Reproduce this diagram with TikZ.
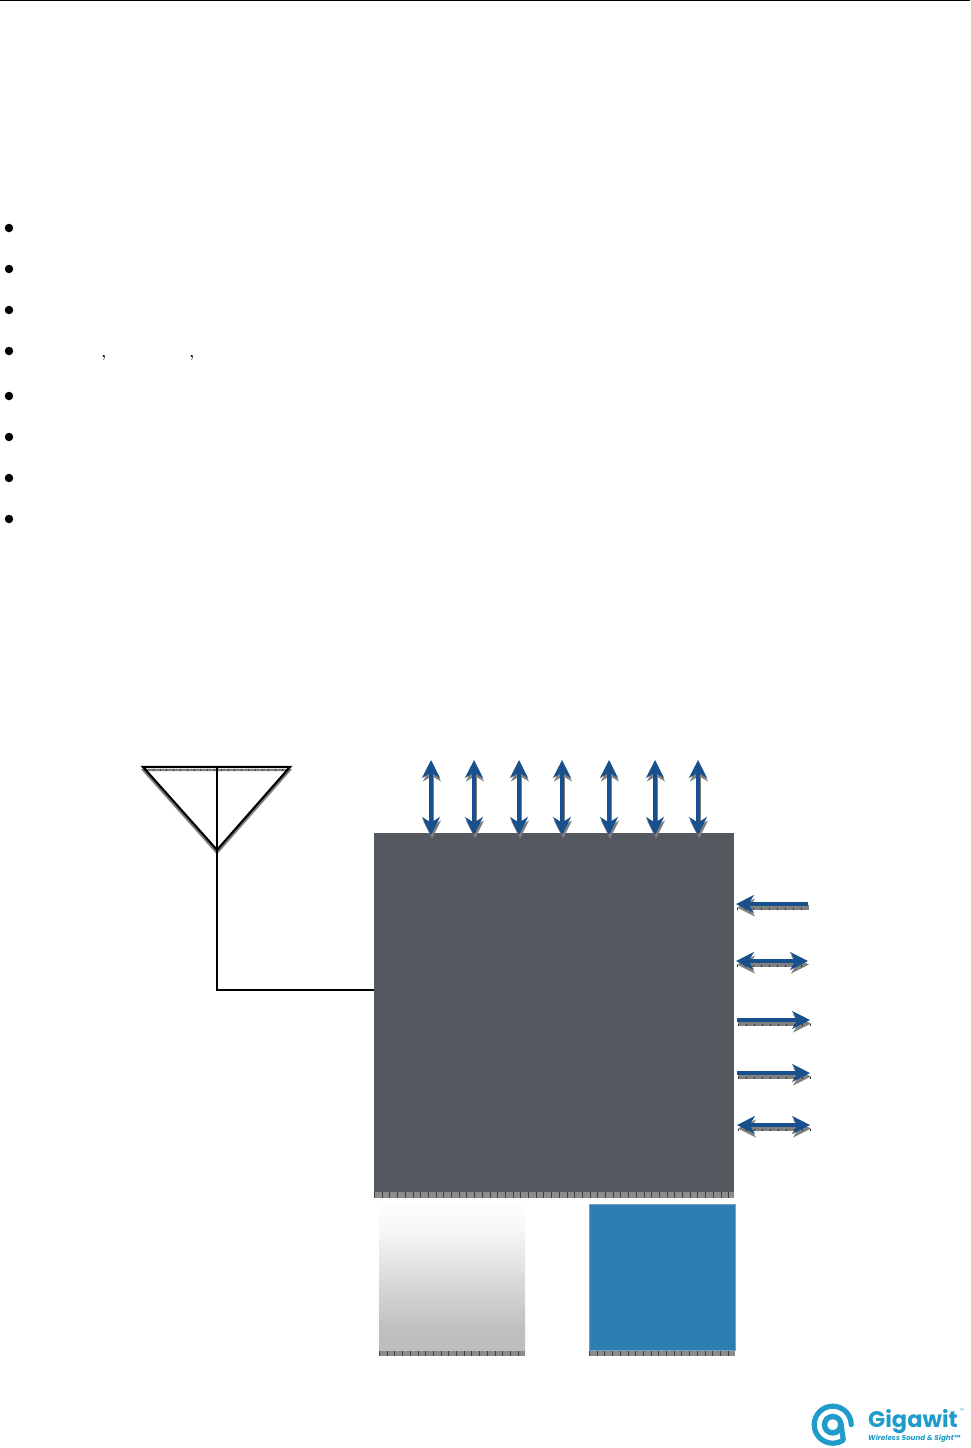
\documentclass[tikz,border=0pt]{standalone}
\usepackage{fontspec}
\usepackage{xcolor}
\usetikzlibrary{arrows.meta,positioning,calc}
\definecolor{chipgray}{HTML}{54585F}
\definecolor{sigblue}{HTML}{17508C}
\definecolor{padblue}{HTML}{2E7DB0}
\definecolor{logoblue}{HTML}{1F9CC9}
\newfontfamily\logofont{Poppins}
\pgfdeclareverticalshading{padfade}{100bp}{color(0bp)=(black!26); color(25bp)=(black!26); color(33bp)=(black!25); color(67bp)=(black!3); color(75bp)=(black!1); color(100bp)=(black!1)}

\begin{document}
\begin{tikzpicture}[
  x=1pt,y=-1pt,
  sigbase/.style={line width=4.4pt,sigblue,
    preaction={draw=gray,line width=4.4pt,transform canvas={xshift=1pt,yshift=-3.5pt}}},
  sig/.style={{Stealth[length=18pt,width=18pt,inset=5.5pt,line width=1.6pt]}-{Stealth[length=18pt,width=18pt,inset=5.5pt,line width=1.6pt]},sigbase},
  sigin/.style={{Stealth[length=18pt,width=18pt,inset=5.5pt,line width=1.6pt]}-,sigbase},
  sigout/.style={-{Stealth[length=18pt,width=18pt,inset=5.5pt,line width=1.6pt]},sigbase},
  hticks/.style={postaction={draw=black!80,arrows=-,line width=1.4pt,dash pattern=on 1pt off 7pt,transform canvas={xshift=1pt,yshift=-4.8pt}}},
  wire/.style={draw=black,line width=2.2pt},
  dot/.style={circle,fill=black,inner sep=0pt,minimum size=8.5pt},
  strip/.style={fill=gray!90,draw=none},
  ticks/.style={draw=black!75,line width=1.2pt,dash pattern=on 1pt off 6.7pt},
  chipbox/.style={rectangle,fill=chipgray,inner sep=0pt,minimum width=360pt,minimum height=359pt},
  padbox/.style={rectangle,inner sep=0pt,minimum width=146pt,minimum height=146pt},
  commamark/.style={inner sep=0pt,font=\Large\bfseries}
]
\useasboundingbox (0,0) rectangle (970,1448);
\draw[line width=1.4pt] (0,0.7) coordinate (ruleL) -- (970,0.7) coordinate (ruleR);

% list bullets
\node[dot] (b1) at (9,228) {};
\node[dot] (b2) at (9,269) {};
\node[dot] (b3) at (9,310) {};
\node[dot] (b4) at (9,351) {};
\node[dot] (b5) at (9,396) {};
\node[dot] (b6) at (9,437) {};
\node[dot] (b7) at (9,478) {};
\node[dot] (b8) at (9,519) {};
\node[commamark] (c1) at (104,358) {,};
\node[commamark] (c2) at (192,358) {,};

% antenna
\coordinate (antL) at (143,767);
\coordinate (antR) at (290,767);
\coordinate (antT) at (217,768);
\coordinate (antB) at (217,850);
\draw[line width=2pt,gray,transform canvas={yshift=-3pt}] (antL) -- (antR) -- (antB) -- cycle;
\draw[ticks,line width=2pt,dash pattern=on 1pt off 5.8pt] (146,770) -- (288,770);
\draw[wire] (antL) -- (antR) -- (antB) -- cycle;

% chip and pads
\node[chipbox,anchor=north west] (chip) at (374,833) {};
\fill[strip] (chip.south west) rectangle ++(360,6);
\draw[ticks,line width=6pt,draw=chipgray!70!black,dash pattern=on 1pt off 6.7pt] ($(chip.south west)+(0,3)$) -- ++(360,0);
\node[padbox,anchor=north west,shading=padfade] (padL) at (379,1205) {};
\fill[strip] (padL.south west) rectangle ++(146,5);
\draw[ticks,line width=5pt,dash pattern=on 1pt off 6.7pt] ($(padL.south west)+(0,2.5)$) -- ++(146,0);
\node[padbox,anchor=north west,fill=padblue,draw=padblue!70!white,line width=.8pt] (padR) at (589,1204) {};
\fill[strip] (padR.south west) rectangle ++(146,5);
\draw[ticks,line width=5pt,dash pattern=on 1pt off 6.7pt] ($(padR.south west)+(0,2.5)$) -- ++(146,0);

% feed line
\coordinate (feed) at (chip.west |- 0,990);
\draw[wire] (antT) -- (antB |- feed) -- (feed);

% top signals
\coordinate (u1) at (431,760); \coordinate (d1) at (431,835);
\coordinate (u2) at (474,760); \coordinate (d2) at (474,835);
\coordinate (u3) at (519,760); \coordinate (d3) at (519,835);
\coordinate (u4) at (562,760); \coordinate (d4) at (562,835);
\coordinate (u5) at (609,760); \coordinate (d5) at (609,835);
\coordinate (u6) at (655,760); \coordinate (d6) at (655,835);
\coordinate (u7) at (698,760); \coordinate (d7) at (698,835);
\draw[sig] (u1) -- (d1);
\draw[sig] (u2) -- (d2);
\draw[sig] (u3) -- (d3);
\draw[sig] (u4) -- (d4);
\draw[sig] (u5) -- (d5);
\draw[sig] (u6) -- (d6);
\draw[sig] (u7) -- (d7);

% right signals
\coordinate (r1) at (736,904); \coordinate (e1) at (808,904);
\coordinate (r2) at (736,961); \coordinate (e2) at (808,961);
\coordinate (r3) at (737,1020); \coordinate (e3) at (810,1020);
\coordinate (r4) at (737,1073); \coordinate (e4) at (810,1073);
\coordinate (r5) at (737,1125); \coordinate (e5) at (810,1125);
\draw[sigin,hticks] (r1) -- (e1);
\draw[sig,hticks] (r2) -- (e2);
\draw[sigout,hticks] (r3) -- (e3);
\draw[sigout,hticks] (r4) -- (e4);
\draw[sig,hticks] (r5) -- (e5);

% logo
\coordinate (swirl) at (832.7,1424.7);
\draw[logoblue,line width=5.2pt,line cap=round,line join=round] (851.2,1424.7) arc[start angle=0,end angle=305,radius=18.5pt] -- (841,1424);
\draw[logoblue,line width=5.5pt] (swirl) circle[radius=8.2pt];
\node[inner sep=0pt,anchor=base west,text=logoblue,font=\logofont\bfseries\fontsize{22.5}{22.5}\selectfont] (logoname) at (868,1427) {Gigawit};
\node[inner sep=0pt,anchor=west,text=logoblue,font=\logofont\fontsize{5}{5}\selectfont] (logotm) at (960,1411) {™};
\node[inner sep=0pt,anchor=west,text=logoblue,font=\logofont\bfseries\itshape\fontsize{7.2}{8}\selectfont] (logotag) at (868,1439) {Wireless Sound \& Sight™};
\end{tikzpicture}
\end{document}
